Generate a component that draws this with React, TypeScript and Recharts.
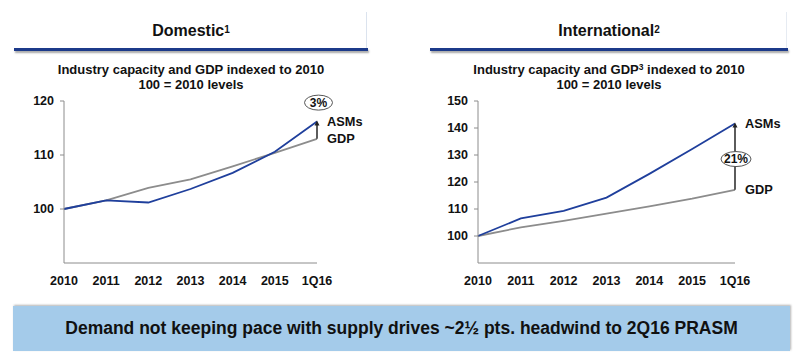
import React from 'react';
import { LineChart, Line, XAxis, YAxis, ReferenceLine, ReferenceDot } from 'recharts';

const categories = ['2010', '2011', '2012', '2013', '2014', '2015', '1Q16'];
const domesticAsms = [100, 101.6, 101.2, 103.7, 106.7, 110.6, 116.2];
const domesticGdp = [100, 101.6, 103.9, 105.5, 107.9, 110.4, 113.0];
const intlAsms = [100, 106.5, 109.3, 114.2, 123.0, 132.2, 141.7];
const intlGdp = [100, 103.2, 105.6, 108.3, 111.0, 113.8, 117.1];
const domesticTicks = [100, 110, 120];
const intlTicks = [100, 110, 120, 130, 140, 150];

const FONT = '"Liberation Sans", Arial, sans-serif';
const BLUE = '#1f3f9c';
const GRAY = '#8c8c8c';

const domesticData = categories.map((c, i) => ({ cat: c, asms: domesticAsms[i], gdp: domesticGdp[i] }));
const intlData = categories.map((c, i) => ({ cat: c, asms: intlAsms[i], gdp: intlGdp[i] }));

const ArrowShape = (props: any) => {
  const { x1, y1, x2, y2 } = props;
  const top = Math.min(y1, y2);
  const bottom = Math.max(y1, y2);
  return (
    <g>
      <line x1={x1} y1={bottom} x2={x2} y2={top + 3} stroke="#333" strokeWidth={1.6} />
      <polygon points={`${x1 - 2.5},${top + 4} ${x1 + 2.5},${top + 4} ${x1},${top - 1}`} fill="#222" />
    </g>
  );
};

const makeEllipse = (text: string, dx: number, rx: number, ry: number) => (props: any) => {
  const { cx, cy } = props;
  return (
    <g>
      <ellipse cx={cx + dx} cy={cy} rx={rx} ry={ry} fill="#fff" stroke="#555" strokeWidth={1} />
      <text x={cx + dx} y={cy + 4.2} textAnchor="middle" fontFamily={FONT} fontWeight="bold" fontSize={12} fill="#111">{text}</text>
    </g>
  );
};

const makeLabel = (text: string, dx: number) => (props: any) => {
  const { cx, cy } = props;
  return (
    <text x={cx + dx} y={cy + 4.5} fontFamily={FONT} fontWeight="bold" fontSize={12.8} fill="#111">{text}</text>
  );
};

const tickStyle = { fontFamily: FONT, fontWeight: 'bold' as const, fontSize: 12.5, fill: '#111' };
const xTickStyle = { fontFamily: FONT, fontWeight: 'bold' as const, fontSize: 12.5, fill: '#111' };

const Header = ({ left, width, title, sup, subSup }: any) => (
  <>
    <div style={{ position: 'absolute', left, top: 20, width, textAlign: 'center', fontFamily: FONT, fontWeight: 'bold', fontSize: 16, color: '#111', lineHeight: '22px' }}>
      {title}<sup style={{ fontSize: 10, verticalAlign: 'top', position: 'relative', top: -1 }}>{sup}</sup>
    </div>
    <div style={{ position: 'absolute', left, top: 48, width, height: 3, background: '#1c3a8a', boxShadow: '1px 2px 2px rgba(0,0,0,0.35)' }} />
    <div style={{ position: 'absolute', left, top: 62, width, textAlign: 'center', fontFamily: FONT, fontWeight: 'bold', fontSize: 13, color: '#111', lineHeight: '15px' }}>
      <div>Industry capacity and GDP{subSup ? <sup style={{ fontSize: 8.5, verticalAlign: 'top', position: 'relative', top: -2 }}>{subSup}</sup> : null} indexed to 2010</div>
      <div>100 = 2010 levels</div>
    </div>
  </>
);

export default function App() {
  return (
    <div style={{ position: 'absolute', left: 0, top: 0, width: 800, height: 358, background: '#fff', overflow: 'hidden' }}>
      <div style={{ position: 'absolute', left: 366, top: 12, width: 1, height: 36, background: '#dbe3ee' }} />
      <div style={{ position: 'absolute', left: 786, top: 12, width: 1, height: 36, background: '#e6ebf2' }} />
      <Header left={14} width={354} title="Domestic" sup="1" />
      <Header left={430} width={358} title="International" sup="2" subSup="3" />

      <div style={{ position: 'absolute', left: 0, top: 90 }}>
        <LineChart width={400} height={200} data={domesticData} margin={{ top: 11, right: 83, left: 0, bottom: 0 }}>
          <XAxis dataKey="cat" height={27} axisLine={{ stroke: GRAY }} tickLine={false} tickSize={6} tickMargin={7} tick={xTickStyle} interval={0} />
          <YAxis width={64} domain={[90, 120]} ticks={domesticTicks} axisLine={{ stroke: GRAY }} tickLine={{ stroke: GRAY }} tickSize={4} tickMargin={6} tick={tickStyle} interval={0} />
          <Line dataKey="gdp" stroke={GRAY} strokeWidth={1.8} dot={false} isAnimationActive={false} />
          <Line dataKey="asms" stroke={BLUE} strokeWidth={1.8} dot={false} isAnimationActive={false} />
          <ReferenceLine segment={[{ x: '1Q16', y: domesticGdp[6] }, { x: '1Q16', y: domesticAsms[6] }]} shape={ArrowShape} ifOverflow="visible" />
          <ReferenceDot x="1Q16" y={119.7} r={1} shape={makeEllipse('3%', 1.5, 14, 7.5)} ifOverflow="visible" />
          <ReferenceDot x="1Q16" y={domesticAsms[6]} r={1} shape={makeLabel('ASMs', 10)} ifOverflow="visible" />
          <ReferenceDot x="1Q16" y={domesticGdp[6]} r={1} shape={makeLabel('GDP', 10)} ifOverflow="visible" />
        </LineChart>
      </div>

      <div style={{ position: 'absolute', left: 400, top: 90 }}>
        <LineChart width={400} height={200} data={intlData} margin={{ top: 11, right: 65, left: 0, bottom: 0 }}>
          <XAxis dataKey="cat" height={27} axisLine={{ stroke: GRAY }} tickLine={false} tickSize={6} tickMargin={7} tick={xTickStyle} interval={0} />
          <YAxis width={78} domain={[90, 150]} ticks={intlTicks} axisLine={{ stroke: GRAY }} tickLine={{ stroke: GRAY }} tickSize={4} tickMargin={6} tick={tickStyle} interval={0} />
          <Line dataKey="gdp" stroke={GRAY} strokeWidth={1.8} dot={false} isAnimationActive={false} />
          <Line dataKey="asms" stroke={BLUE} strokeWidth={1.8} dot={false} isAnimationActive={false} />
          <ReferenceLine segment={[{ x: '1Q16', y: intlGdp[6] }, { x: '1Q16', y: intlAsms[6] }]} shape={ArrowShape} ifOverflow="visible" />
          <ReferenceDot x="1Q16" y={128.5} r={1} shape={makeEllipse('21%', 1, 15, 7.5)} ifOverflow="visible" />
          <ReferenceDot x="1Q16" y={intlAsms[6]} r={1} shape={makeLabel('ASMs', 10)} ifOverflow="visible" />
          <ReferenceDot x="1Q16" y={intlGdp[6]} r={1} shape={makeLabel('GDP', 10)} ifOverflow="visible" />
        </LineChart>
      </div>

      <div style={{ position: 'absolute', left: 13, top: 306, width: 777, height: 45, background: '#a4cbea', boxShadow: '1px -1px 2px rgba(0,0,0,0.3)', display: 'flex', alignItems: 'center', justifyContent: 'center', fontFamily: FONT, fontWeight: 'bold', fontSize: 17.5, color: '#111' }}>
        Demand not keeping pace with supply drives ~2½ pts. headwind to 2Q16 PRASM
      </div>
    </div>
  );
}
